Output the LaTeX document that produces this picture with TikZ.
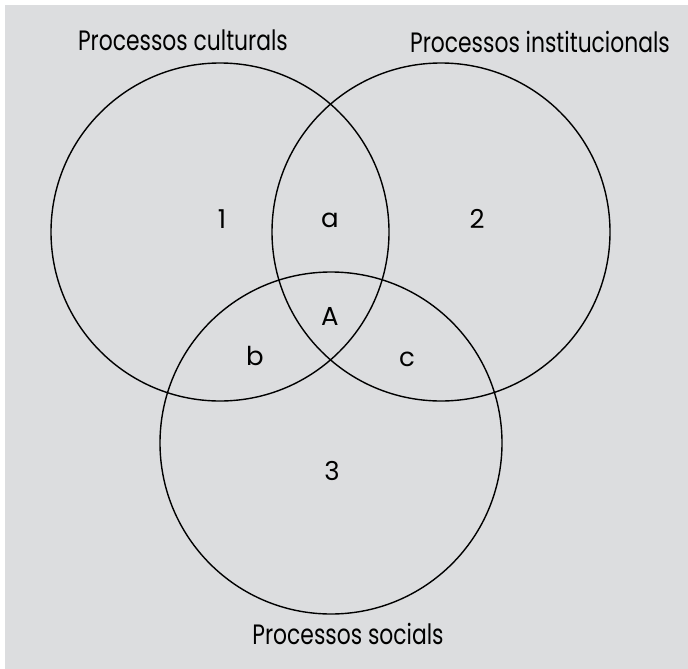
\documentclass[tikz,border=0pt]{standalone}
\usepackage{fontspec}
\setmainfont{Poppins}
\newfontfamily\titlefont[FakeStretch=0.78]{Poppins}
\definecolor{bggrey}{RGB}{220,221,223}
\tikzset{
  venn/.style={circle, draw=black, line width=1.4pt, minimum size=338pt, inner sep=0pt},
  titlelbl/.style={font=\titlefont\fontsize{28}{32}\selectfont, inner sep=0pt},
  regionlbl/.style={font=\fontsize{26}{30}\selectfont, inner sep=0pt}
}
\begin{document}
\begin{tikzpicture}[x=1pt,y=-1pt]
\useasboundingbox (0,0) rectangle (688,669);
\fill[white] (0,0) rectangle (688,669);
\fill[bggrey] (5,5) rectangle (688,669);
\node[venn] (c1) at (220,232) {};
\node[venn] (c2) at (441,232) {};
\node[venn, minimum size=342pt] (c3) at (331,443) {};
\node[titlelbl] (t1) at (183,40) {Processos culturals};
\node[titlelbl] (t2) at (540,42) {Processos institucionals};
\node[titlelbl] (t3) at (348,634) {Processos socials};
\node[regionlbl] (r1) at (222,219) {1};
\node[regionlbl] (r2) at (477,219) {2};
\node[regionlbl] (r3) at (332,471) {3};
\node[regionlbl] (ra) at (330,220) {a};
\node[regionlbl] (rA) at (330,316) {A};
\node[regionlbl] (rb) at (255,356) {b};
\node[regionlbl] (rc) at (407,359) {c};
\end{tikzpicture}
\end{document}
